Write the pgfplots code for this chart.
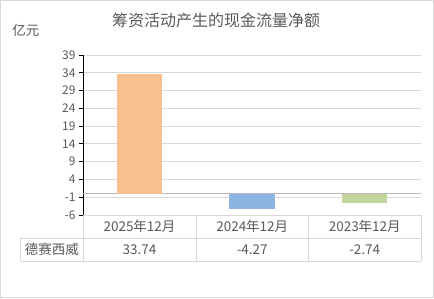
\documentclass[border=0pt]{standalone}
\usepackage{pgfplots}
\pgfplotsset{compat=1.18}
\usepackage{fontspec}
\setmainfont{Noto Sans CJK SC}
\definecolor{txt}{HTML}{595959}
\definecolor{cOrange}{HTML}{F9C08F}
\definecolor{cBlue}{HTML}{8EB4E3}
\definecolor{cGreen}{HTML}{C3D69B}
\definecolor{gridc}{HTML}{D9D9D9}
\begin{document}
\begin{tikzpicture}[x=1pt,y=1pt]
\path[use as bounding box] (0,0) rectangle (434,298);
\draw[gridc, line width=1pt] (0.5,0.5) rectangle (433.5,297.5);
\node[text=txt, font=\fontsize{16}{18}\selectfont] at (216,278) {筹资活动产生的现金流量净额};
\node[text=txt, font=\fontsize{13.5}{15}\selectfont] at (26,268) {亿元};
\begin{axis}[
  at={(83pt,83pt)}, anchor=south west,
  scale only axis, width=338pt, height=160pt,
  xmin=-0.5, xmax=2.5, ymin=-6, ymax=39,
  ytick={-6,-1,4,9,14,19,24,29,34,39},
  xtick=\empty,
  axis y line*=left, axis x line=none,
  y axis line style={black, line width=0.9pt},
  ytick style={black, line width=0.9pt},
  tick align=outside, major tick length=4pt,
  ymajorgrids, major grid style={gridc, line width=0.8pt},
  yticklabel style={font=\fontsize{12}{14}\selectfont, text=txt},
  /pgf/number format/assume math mode=true,
  clip=false,
]
\draw[gray!55, line width=0.8pt] (axis cs:-0.5,0) -- (axis cs:2.5,0);
\addplot[ybar, bar shift=0pt, bar width=0.4, fill=cOrange, draw=none] coordinates {(0,33.74)};
\addplot[ybar, bar shift=0pt, bar width=0.4, fill=cBlue, draw=none] coordinates {(1,-4.27)};
\addplot[ybar, bar shift=0pt, bar width=0.4, fill=cGreen, draw=none] coordinates {(2,-2.74)};
\end{axis}
% data table
\begin{scope}[gridc, line width=0.8pt]
\draw (83,83) -- (421,83);
\draw (20.5,60) -- (421,60);
\draw (20.5,37) -- (421,37);
\draw (20.5,60) -- (20.5,37);
\draw (83,83) -- (83,37);
\draw (196,83) -- (196,37);
\draw (308.5,83) -- (308.5,37);
\draw (421,83) -- (421,37);
\end{scope}
\begin{scope}[text=txt, font=\fontsize{13.5}{15}\selectfont]
\node at (139.5,71.5) {2025年12月};
\node at (252.25,71.5) {2024年12月};
\node at (364.75,71.5) {2023年12月};
\node at (51.75,48.5) {德赛西威};
\node at (139.5,48.5) {33.74};
\node at (252.25,48.5) {-4.27};
\node at (364.75,48.5) {-2.74};
\end{scope}
\end{tikzpicture}
\end{document}
